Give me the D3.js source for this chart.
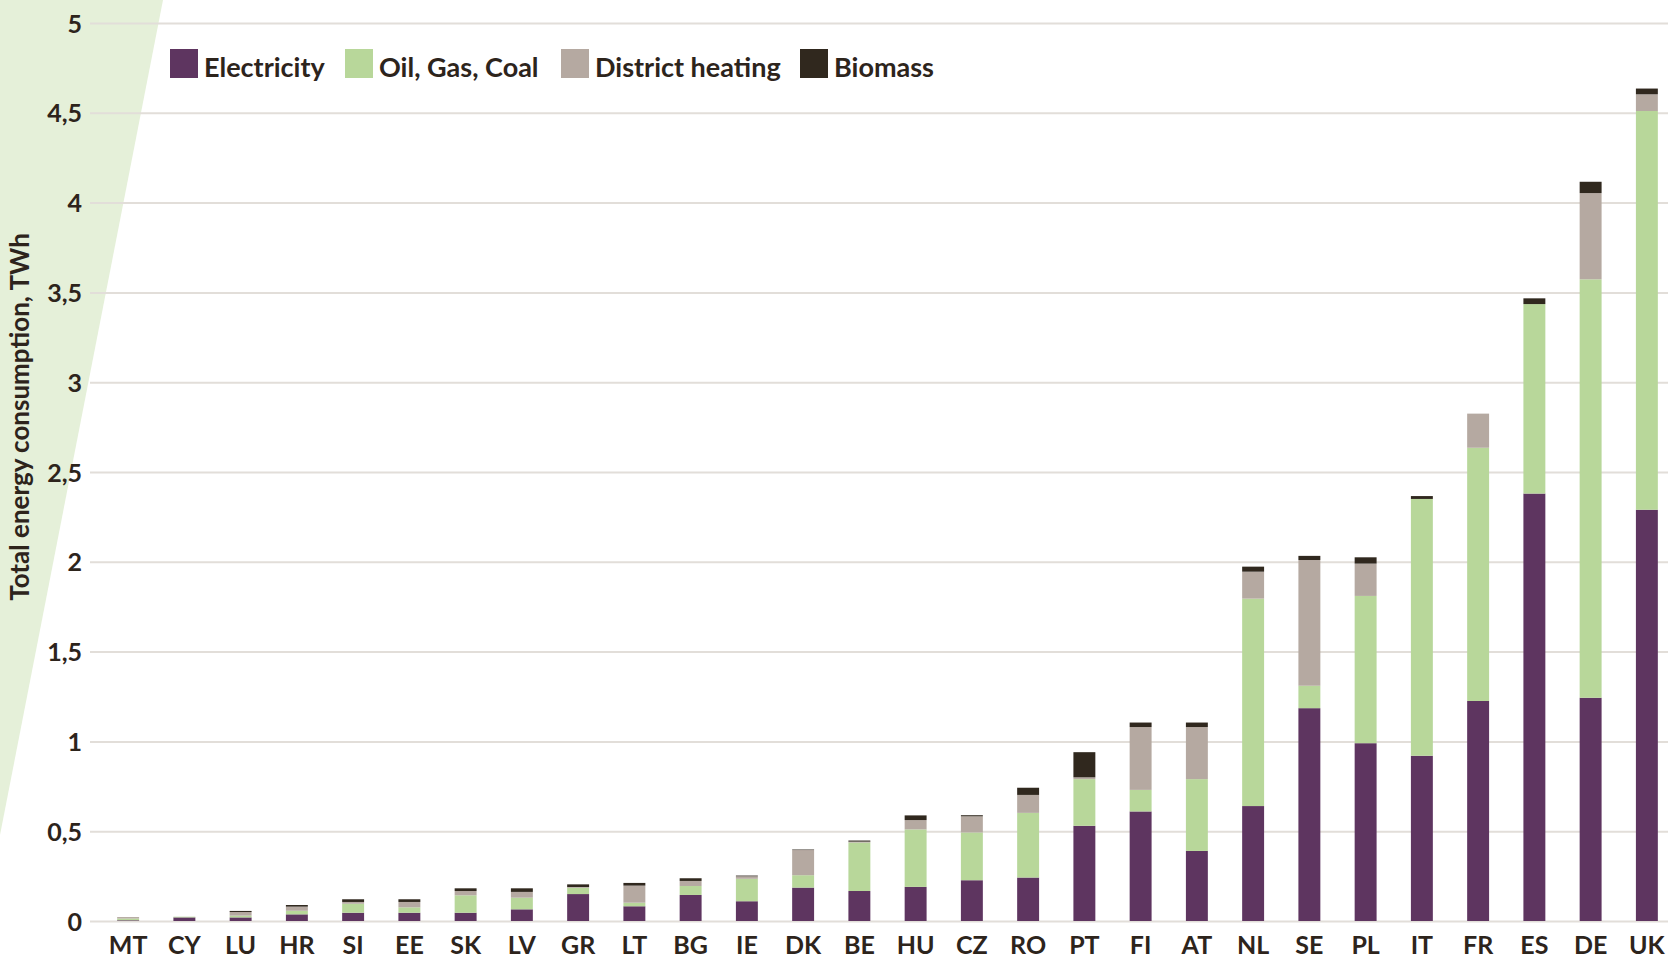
<!DOCTYPE html>
<html>
<head>
<meta charset="utf-8">
<script src="https://cdn.jsdelivr.net/npm/d3@7"></script>
<style>
  body { margin: 0; background: #fff; }
  svg text { font-family: Lato, "Open Sans", sans-serif; font-weight: 700; fill: #2d241c; }
</style>
</head>
<body>
<svg></svg>
<script>
// data (TWh)
var countries = ["MT", "CY", "LU", "HR", "SI", "EE", "SK", "LV", "GR", "LT", "BG", "IE", "DK", "BE",
    "HU", "CZ", "RO", "PT", "FI", "AT", "NL", "SE", "PL", "IT", "FR", "ES", "DE", "UK"];
var electricity = [0.004, 0.02, 0.02, 0.037, 0.046, 0.046, 0.046, 0.065, 0.15, 0.082, 0.145, 0.11, 0.186, 0.167,
    0.19, 0.227, 0.242, 0.53, 0.61, 0.39, 0.64, 1.185, 0.99, 0.92, 1.225, 2.38, 1.243, 2.29];
var fossil = [0.01, 0.004, 0.01, 0.02, 0.05, 0.03, 0.097, 0.065, 0.035, 0.02, 0.05, 0.125, 0.069, 0.27,
    0.32, 0.266, 0.36, 0.26, 0.12, 0.40, 1.155, 0.125, 0.82, 1.43, 1.41, 1.055, 2.33, 2.22];
var district = [0.008, 0, 0.02, 0.023, 0.01, 0.03, 0.024, 0.032, 0.004, 0.095, 0.028, 0.014, 0.14, 0.005,
    0.052, 0.09, 0.10, 0.01, 0.35, 0.29, 0.15, 0.70, 0.18, 0, 0.19, 0, 0.48, 0.093];
var biomass = [0, 0, 0.006, 0.009, 0.015, 0.015, 0.015, 0.02, 0.015, 0.015, 0.015, 0.004, 0.003, 0.006,
    0.026, 0.006, 0.04, 0.14, 0.025, 0.025, 0.028, 0.023, 0.035, 0.016, 0, 0.032, 0.063, 0.032];
var seriesNames = ["Electricity", "Oil, Gas, Coal", "District heating", "Biomass"];
var seriesColors = ["#5e3560", "#b8d79a", "#b5a9a1", "#30281e"];
var yTicks = [0, 0.5, 1, 1.5, 2, 2.5, 3, 3.5, 4, 4.5, 5];

var WIDTH = 1668, HEIGHT = 959;
var margin = { top: 23, right: 0, bottom: 38, left: 90 };

var svg = d3.select("svg")
    .attr("width", WIDTH)
    .attr("height", HEIGHT);

// light green wedge on the left
svg.append("polygon")
    .attr("points", "0,0 163,0 0,835")
    .attr("fill", "#e5f0d9");

var rows = countries.map(function (c, i) {
    return {
        country: c,
        "Electricity": electricity[i],
        "Oil, Gas, Coal": fossil[i],
        "District heating": district[i],
        "Biomass": biomass[i]
    };
});

var x = d3.scaleBand()
    .domain(countries)
    .range([100, 1675])
    .paddingInner(0.61)
    .paddingOuter(0.305);

var y = d3.scaleLinear()
    .domain([0, 5])
    .range([HEIGHT - margin.bottom, margin.top]);

var color = d3.scaleOrdinal().domain(seriesNames).range(seriesColors);

// grid + y labels
var yAxis = d3.axisLeft(y)
    .tickValues(yTicks)
    .tickSize(-(WIDTH - margin.left))
    .tickPadding(8)
    .tickFormat(function (d) { return String(d).replace(".", ","); });

var gy = svg.append("g")
    .attr("transform", "translate(" + margin.left + ",0)")
    .call(yAxis);
gy.select(".domain").remove();
gy.selectAll("line").attr("stroke", "#e2ded9").attr("stroke-width", 2);
gy.selectAll("text").style("font-size", "25px").attr("dy", "0.36em");

// stacked bars
var stack = d3.stack().keys(seriesNames);
var layers = stack(rows);

svg.append("g")
    .selectAll("g")
    .data(layers)
    .enter().append("g")
    .attr("fill", function (d) { return color(d.key); })
    .selectAll("rect")
    .data(function (d) { return d; })
    .enter().append("rect")
    .attr("x", function (d) { return x(d.data.country); })
    .attr("y", function (d) { return y(d[1]); })
    .attr("width", x.bandwidth())
    .attr("height", function (d) { return y(d[0]) - y(d[1]); });

// x labels
var gx = svg.append("g")
    .attr("transform", "translate(0," + y(0) + ")")
    .call(d3.axisBottom(x).tickSize(0).tickPadding(15));
gx.select(".domain").remove();
gx.selectAll("text").style("font-size", "25px");

// y title
svg.append("text")
    .attr("transform", "translate(29,417) rotate(-90)")
    .attr("text-anchor", "middle")
    .style("font-size", "26px")
    .text("Total energy consumption, TWh");

// legend
var legendX = [170, 345, 561, 800];
var legend = svg.append("g")
    .selectAll("g")
    .data(seriesNames)
    .enter().append("g")
    .attr("transform", function (d, i) { return "translate(" + legendX[i] + ",49)"; });
legend.append("rect")
    .attr("width", 28)
    .attr("height", 29)
    .attr("fill", function (d) { return color(d); });
legend.append("text")
    .attr("x", 34)
    .attr("y", 28)
    .style("font-size", "27px")
    .text(function (d) { return d; });
</script>
</body>
</html>
